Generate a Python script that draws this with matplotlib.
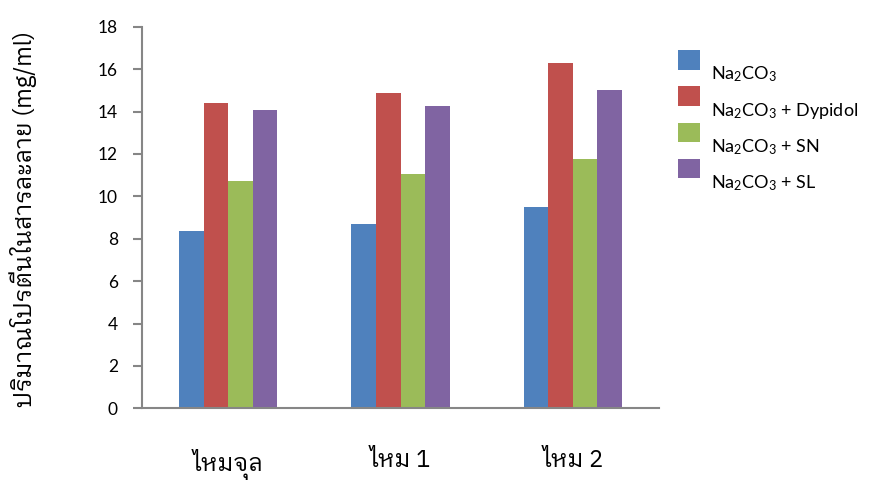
import matplotlib
matplotlib.use("Agg")
import matplotlib.pyplot as plt
import numpy as np
from matplotlib.patches import Rectangle
from matplotlib.legend_handler import HandlerPatch

# Protein content of silk samples under different degumming treatments
categories = ["ไหมจุล", "ไหม 1", "ไหม 2"]
series_labels = [
    "Na$_2$CO$_3$",
    "Na$_2$CO$_3$ + Dypidol",
    "Na$_2$CO$_3$ + SN",
    "Na$_2$CO$_3$ + SL",
]
na2co3 = [8.37, 8.69, 9.51]
na2co3_dypidol = [14.42, 14.86, 16.29]
na2co3_sn = [10.74, 11.04, 11.76]
na2co3_sl = [14.07, 14.27, 15.00]
y_ticks = [0, 2, 4, 6, 8, 10, 12, 14, 16, 18]
y_label = "ปริมาณโปรตีนในสารละลาย (mg/ml)"

series = [na2co3, na2co3_dypidol, na2co3_sn, na2co3_sl]
colors = ["#4F81BD", "#C0504D", "#9BBB59", "#8064A2"]

THAI = ["IBM Plex Sans Thai Looped", "Noto Sans Thai Looped", "DejaVu Sans"]
LATIN = ["Lato", "DejaVu Sans"]
plt.rcParams["font.family"] = LATIN
plt.rcParams["mathtext.fontset"] = "custom"
plt.rcParams["mathtext.rm"] = "Lato"
plt.rcParams["mathtext.it"] = "Lato"
plt.rcParams["mathtext.default"] = "rm"

fig = plt.figure(figsize=(8.8, 4.84), dpi=100)
ax = fig.add_axes([142 / 880, 1 - 408.3 / 484, (659 - 142) / 880, (408.3 - 26.7) / 484])

x = np.arange(len(categories))
w = 0.143
bars = []
for i, (vals, c, lab) in enumerate(zip(series, colors, series_labels)):
    b = ax.bar(x + (i - 1.5) * w, vals, width=w, color=c, label=lab, linewidth=0)
    bars.append(b)

ax.set_xlim(-0.5, 2.5)
ax.set_ylim(0, 18)
ax.set_yticks(y_ticks)
ax.set_yticklabels([str(t) for t in y_ticks], fontsize=12.5, family=LATIN)
ax.set_xticks(x)
ax.set_xticklabels(categories, fontsize=17, family=THAI)

axis_gray = "#868686"
for s in ["top", "right"]:
    ax.spines[s].set_visible(False)
for s in ["left", "bottom"]:
    ax.spines[s].set_color(axis_gray)
    ax.spines[s].set_linewidth(1.5)
ax.tick_params(axis="y", direction="out", length=6.3, width=1.5, color=axis_gray, pad=11)
ax.tick_params(axis="x", length=0, pad=29)

fig.text(23 / 880, 1 - 219 / 484, y_label, rotation=90, ha="center", va="center",
         fontsize=17, family=THAI)


def raised_square(legend, orig_handle, xdescent, ydescent, width, height, fontsize):
    # square sits a little above the label's centre line
    return Rectangle((-xdescent, -ydescent + 10.0), width, height)


handles = [b.patches[0] for b in bars]
leg = fig.legend(
    handles, series_labels,
    loc="upper left", bbox_to_anchor=(678 / 880, 1 - 64 / 484),
    frameon=False, fontsize=13, borderpad=0, borderaxespad=0,
    handlelength=1.22, handleheight=1.28, handletextpad=0.6, labelspacing=0.87,
    handler_map={Rectangle: HandlerPatch(patch_func=raised_square)},
)

fig.savefig("out.png", dpi=100)
